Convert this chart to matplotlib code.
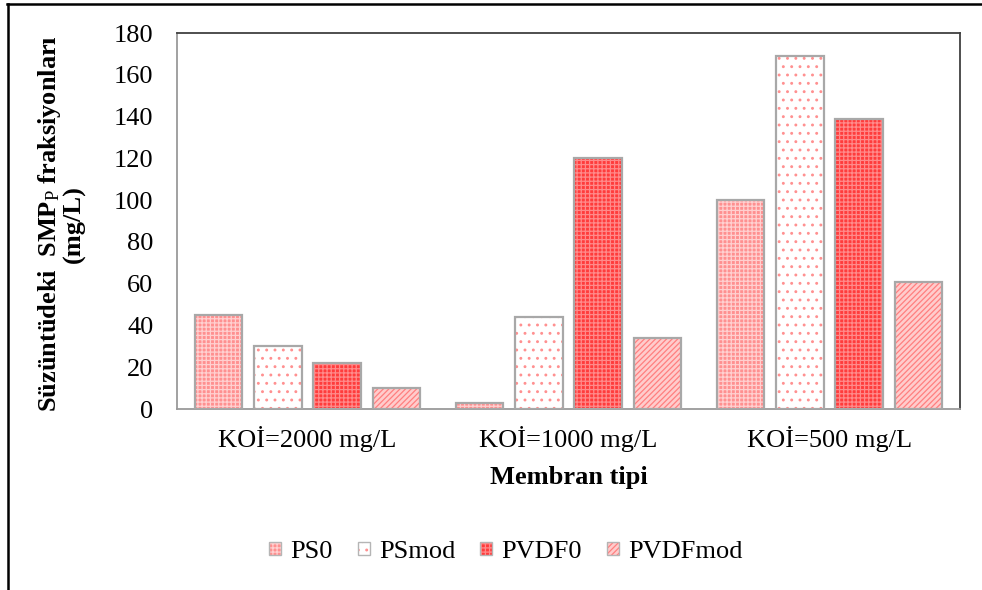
import numpy as np
import matplotlib
matplotlib.use("Agg")
import matplotlib.pyplot as plt
from matplotlib.lines import Line2D
from matplotlib.patches import Rectangle
from matplotlib.legend_handler import HandlerTuple

plt.rcParams["font.family"] = ["Liberation Serif", "DejaVu Serif"]
plt.rcParams["mathtext.fontset"] = "custom"
plt.rcParams["mathtext.rm"] = "Liberation Serif"
plt.rcParams["mathtext.bf"] = "Liberation Serif:bold"
plt.rcParams["mathtext.it"] = "Liberation Serif:italic"
plt.rcParams["hatch.linewidth"] = 0.9

# Data
categories = ["KOİ=2000 mg/L", "KOİ=1000 mg/L", "KOİ=500 mg/L"]
series_names = ["PS0", "PSmod", "PVDF0", "PVDFmod"]
ps0 = [45, 3, 100]
psmod = [30, 44, 169]
pvdf0 = [22, 120, 139]
pvdfmod = [10, 34, 61]
yticks = [0, 20, 40, 60, 80, 100, 120, 140, 160, 180]

values = [ps0, psmod, pvdf0, pvdfmod]
# face colour, hatch pattern, hatch colour for each membrane
styles = [
    ("#ff9090", "++++", "#ffd0d0"),
    ("#ffffff", "..", "#ff9090"),
    ("#ff3c3c", "++++", "#ff8a8a"),
    ("#ffcccc", "//////", "#ff7f7f"),
]

fig = plt.figure(figsize=(9.82, 5.90), dpi=100)
ax = fig.add_axes([177 / 982, 181 / 590, (960 - 177) / 982, (409 - 33) / 590])

x = np.arange(len(categories))
pitch = 0.227
width = 0.182
handles = []
for i, (vals, (fc, hatch, hc)) in enumerate(zip(values, styles)):
    pos = x + (i - 1.5) * pitch
    ax.bar(pos, vals, width, color=fc, hatch=hatch, edgecolor=hc,
           linewidth=0, zorder=2)
    ax.bar(pos, vals, width, fill=False, edgecolor="#a8a8a8",
           linewidth=1.6, zorder=3)
    fill = Rectangle((0, 0), 1, 1, facecolor=fc, hatch=hatch,
                     edgecolor=hc, linewidth=0)
    outline = Rectangle((0, 0), 1, 1, fill=False, edgecolor="#b5b5b5",
                        linewidth=1.0)
    handles.append((fill, outline))

ax.set_xlim(-0.5, 2.5)
ax.set_ylim(0, 180)
ax.set_yticks(yticks)
ax.set_xticks(x)
ax.set_xticklabels(categories, fontsize=19)
ax.tick_params(axis="y", length=0, pad=17, labelsize=19)
ax.tick_params(axis="x", length=0, pad=12)

for side, col in [("top", "#404040"), ("right", "#404040"),
                  ("left", "#9a9a9a"), ("bottom", "#9a9a9a")]:
    ax.spines[side].set_color(col)
    ax.spines[side].set_linewidth(1.3)

ax.set_xlabel("Membran tipi", fontsize=19, fontweight="bold", labelpad=10)

fig.text(61 / 982, 1 - 224 / 590,
         "Süzüntüdeki  SMP$_{\\mathrm{P}}$ fraksiyonları\n(mg/L)",
         rotation=90, ha="center", va="center", multialignment="center",
         fontsize=19, fontweight="bold", linespacing=1.0)

fig.legend(handles, series_names, loc="center",
           bbox_to_anchor=(506 / 982, 38 / 590), ncol=4, frameon=False,
           prop={"family": ["Liberation Serif"], "size": 19},
           handler_map={tuple: HandlerTuple(ndivide=1, pad=0)},
           handlelength=0.45, handleheight=0.4,
           handletextpad=0.35, columnspacing=0.95)

# outer frame
fig.add_artist(Line2D([7 / 982, 1.0], [1 - 3.5 / 590, 1 - 3.5 / 590],
                      color="black", linewidth=1.8,
                      transform=fig.transFigure))
fig.add_artist(Line2D([7.5 / 982, 7.5 / 982], [0, 1 - 3.5 / 590],
                      color="black", linewidth=1.8,
                      transform=fig.transFigure))

fig.savefig("out.png", dpi=100)
